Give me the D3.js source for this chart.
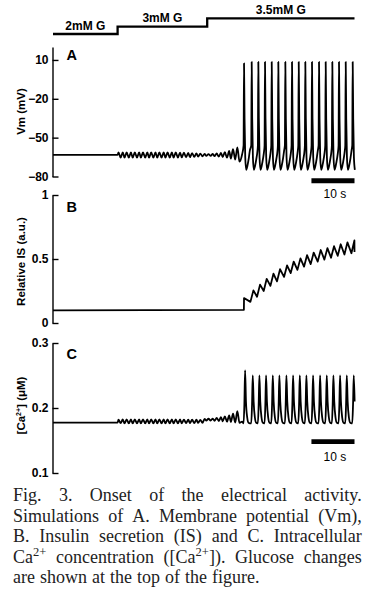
<!DOCTYPE html>
<html>
<head>
<meta charset="utf-8">
<script src="https://cdn.jsdelivr.net/npm/d3@7"></script>
<style>
    body { margin: 0; background: #fff; }
    svg { display: block; }
</style>
</head>
<body>
<svg id="figure" width="374" height="599"></svg>
<script>
// ---------------------------------------------------------------
// values, time in s

// glucose protocol
const glucoseTimes = [0, 15, 35.8, 70]
const glucoseLevels = [2, 3, 3.5, 3.5]
const glucoseLabels = ['2mM G', '3mM G', '3.5mM G']

// 2mM G, flat
const vmRest = -63.3
const caRest = 0.1775
const isRest = [0.099, 0.103]

// subthreshold oscillations (turning points), 3mM G up to first spike
const preTimes = [15.2, 15.7, 16.2, 16.6, 17.1, 17.6, 18.1, 18.5, 19.0, 19.5,
    20.0, 20.4, 20.9, 21.4, 21.9, 22.3, 22.8, 23.3, 23.8, 24.2,
    24.7, 25.2, 25.7, 26.1, 26.6, 27.1, 27.6, 28.0, 28.5, 29.0,
    29.5, 29.9, 30.4, 30.9, 31.4, 31.8, 32.3, 32.8, 33.3, 33.7,
    34.2, 34.7, 35.2, 35.6, 36.1, 36.6, 37.1, 37.5, 38.0, 38.5,
    39.0, 39.4, 39.9, 40.4, 40.9, 41.3, 41.8, 42.3, 42.8, 43.3, 43.9]
const vmPre = [-61.4, -65.4, -61.3, -65.5, -61.3, -65.4, -61.4, -65.5, -61.3, -65.4,
    -61.3, -65.5, -61.4, -65.4, -61.3, -65.5, -61.3, -65.4, -61.4, -65.5,
    -61.3, -65.4, -61.3, -65.5, -61.4, -65.4, -61.3, -65.4, -61.4, -65.4,
    -61.5, -65.3, -61.6, -65.2, -61.7, -65.1, -61.9, -64.9, -62.1, -64.7,
    -62.3, -64.4, -62.6, -64.1, -62.7, -64.1, -62.5, -64.3, -62.2, -64.6,
    -61.8, -65.0, -61.2, -65.5, -60.3, -66.1, -58.8, -66.9, -57.6, -68.5, -63.0]
const caPre = [0.1822, 0.1766, 0.1824, 0.1764, 0.1824, 0.1764, 0.1824, 0.1764, 0.1824, 0.1764,
    0.1824, 0.1764, 0.1824, 0.1764, 0.1824, 0.1764, 0.1824, 0.1764, 0.1824, 0.1764,
    0.1824, 0.1764, 0.1824, 0.1764, 0.1824, 0.1764, 0.1824, 0.1764, 0.1824, 0.1764,
    0.1823, 0.1765, 0.1822, 0.1766, 0.1821, 0.1767, 0.1820, 0.1768, 0.1819, 0.1770,
    0.1818, 0.1772, 0.1832, 0.1806, 0.1835, 0.1806, 0.1838, 0.1804, 0.1847, 0.1800,
    0.1858, 0.1796, 0.1872, 0.1790, 0.1888, 0.1784, 0.1912, 0.1777, 0.1952, 0.1770, 0.1790]

// action potentials at 3.5mM G
const spikeTimes = [44.35, 46.13, 47.67, 49.22, 50.78, 52.31, 53.94, 55.49, 57.05,
    58.58, 60.13, 61.76, 63.31, 64.85, 66.40, 67.96, 69.58]
const vmPeaks = [7.4, 8.4, 8.4, 8.4, 8.4, 8.4, 8.4, 8.4, 8.4,
    8.4, 8.4, 8.4, 8.4, 8.4, 8.4, 8.4, 8.4]
const caPeaks = [0.258, 0.250, 0.250, 0.250, 0.250, 0.250, 0.250, 0.250, 0.250,
    0.250, 0.250, 0.250, 0.250, 0.250, 0.250, 0.250, 0.250]
const isPeaks = [0.195, 0.255, 0.300, 0.345, 0.385, 0.420, 0.450, 0.480, 0.505,
    0.530, 0.550, 0.570, 0.585, 0.600, 0.615, 0.630, 0.645]
const isTroughs = [0.165, 0.205, 0.250, 0.290, 0.325, 0.360, 0.390, 0.415, 0.440,
    0.460, 0.480, 0.495, 0.510, 0.525, 0.535, 0.545, 0.555]

// one cycle around a spike: offset from the spike (s) and value
const vmCycleDt = [-0.1, 0, 0.12, 0.28, 0.5, 0.8, 1.1, 1.35]
const vmCycle = [-56, 8.4, -35, -65, -74.8, -71.5, -66, -60]
const caCycleDt = [-0.1, 0.08, 0.25, 0.45, 0.75, 1.05, 1.35]
const caCycle = [0.1765, 0.205, 0.25, 0.21, 0.185, 0.1772, 0.1765]

const vmTicks = [10, -20, -50, -80]
const isTicks = [1, 0.5, 0]
const caTicks = [0.3, 0.2, 0.1]
const scaleBar = [60, 70]

const captionLines = [
    'Fig. 3. Onset of the electrical activity.',
    'Simulations of A. Membrane potential (Vm),',
    'B. Insulin secretion (IS) and C. Intracellular',
    'Ca{2+} concentration ([Ca{2+}]). Glucose changes',
    'are shown at the top of the figure.'
]

const SANS = '"Liberation Sans", Arial, Helvetica, sans-serif'
const SERIF = '"Liberation Serif", "Times New Roman", serif'

class OnsetFigure {
    constructor(svg) {
        this.svg = svg
        this.x = d3.scaleLinear().domain([0, 70]).range([53, 354.5])
    }

    draw() {
        this.drawGlucose()

        const vm = this.panel({
            letter: 'A', label: ['Vm (mV)'],
            y: d3.scaleLinear().domain([-80, 20]).range([176.5, 47]),
            ticks: vmTicks, format: d3.format('d'),
            letterY: 60, labelY: 111.5
        })
        this.trace(vm, this.vmSeries(), d3.curveMonotoneX)
        this.drawScaleBar(180.8, 5, 198)

        const is = this.panel({
            letter: 'B', label: ['Relative IS (a.u.)'],
            y: d3.scaleLinear().domain([0, 1]).range([323, 195]),
            ticks: isTicks, format: d => String(d),
            letterY: 211.5, labelY: 261.5
        })
        this.trace(is, this.isSeries(), d3.curveLinear)

        const ca = this.panel({
            letter: 'C', label: ['[Ca', '2+', '] (\u03bcM)'],
            y: d3.scaleLinear().domain([0.1, 0.3]).range([473, 343]),
            ticks: caTicks, format: d3.format('.1f'),
            letterY: 359, labelY: 405.5
        })
        this.trace(ca, this.caSeries(), d3.curveMonotoneX)
        this.drawScaleBar(441.7, 4.7, 460.5)

        this.drawCaption()
    }

    //----------------------------------------------------------
    // series
    vmSeries() {
        const pts = [[0, vmRest], [15, vmRest]]
        preTimes.forEach((t, i) => pts.push([t, vmPre[i]]))
        spikeTimes.forEach((tp, i) => {
            vmCycleDt.forEach((dt, j) => pts.push([tp + dt, j === 1 ? vmPeaks[i] : vmCycle[j]]))
        })
        return pts.filter(d => d[0] <= 70.1)
    }

    caSeries() {
        const pts = [[0, caRest], [15, caRest]]
        preTimes.forEach((t, i) => pts.push([t, caPre[i]]))
        spikeTimes.forEach((tp, i) => {
            caCycleDt.forEach((dt, j) => pts.push([tp + dt, j === 2 ? caPeaks[i] : caCycle[j]]))
        })
        return pts.filter(d => d[0] <= 70.1)
    }

    isSeries() {
        const pts = [[0, isRest[0]], [spikeTimes[0] - 0.03, isRest[1]]]
        spikeTimes.forEach((tp, i) => {
            if (i > 0) pts.push([tp - 0.3, isTroughs[i - 1]])
            pts.push([tp + (i ? 0.4 : 0), isPeaks[i]])
        })
        pts.push([70, isTroughs[isTroughs.length - 1]])
        return pts
    }

    //----------------------------------------------------------
    // glucose steps on top
    drawGlucose() {
        const yG = d3.scaleLinear().domain([2, 3, 3.5]).range([34, 26.7, 18.3])
        const data = glucoseTimes.map((t, i) => [t, glucoseLevels[i]])

        this.svg.append('path')
            .datum(data)
            .attr('d', d3.line().x(d => this.x(d[0])).y(d => yG(d[1])).curve(d3.curveStepAfter))
            .style('fill', 'none')
            .style('stroke', '#000')
            .style('stroke-width', 2.3)

        this.svg.selectAll('text.glucose')
            .data(glucoseLabels)
            .enter()
                .append('text')
                .attr('class', 'glucose')
                .attr('x', (d, i) => this.x((glucoseTimes[i] + glucoseTimes[i + 1]) / 2))
                .attr('y', (d, i) => yG(glucoseLevels[i]) - 4.3)
                .style('text-anchor', 'middle')
                .style('font-family', SANS)
                .style('font-weight', 'bold')
                .style('font-size', '12px')
                .text(d => d)
    }

    //----------------------------------------------------------
    // one panel: axis, letter, rotated label
    panel(opt) {
        const g = this.svg.append('g')
        const axis = d3.axisLeft(opt.y)
            .tickValues(opt.ticks)
            .tickFormat(opt.format)
            .tickSizeInner(-6)
            .tickSizeOuter(0)
            .tickPadding(4)

        const ax = g.append('g')
            .attr('transform', `translate(${this.x(0) - 0.5}, 0)`)
            .call(axis)
        ax.selectAll('path, line')
            .style('stroke', '#000')
            .style('stroke-width', 1.4)
        ax.selectAll('text')
            .style('font-family', SANS)
            .style('font-weight', 'bold')
            .style('font-size', '12px')
            .style('fill', '#000')

        g.append('text')
            .attr('x', 66.5)
            .attr('y', opt.letterY)
            .style('font-family', SANS)
            .style('font-weight', 'bold')
            .style('font-size', '14.5px')
            .text(opt.letter)

        const label = g.append('text')
            .attr('transform', `translate(25.3, ${opt.labelY}) rotate(-90)`)
            .style('text-anchor', 'middle')
            .style('font-family', SANS)
            .style('font-weight', 'bold')
            .style('font-size', '11.5px')
        opt.label.forEach((part, i) => {
            const ts = label.append('tspan').text(part)
            if (i === 1) ts.attr('dy', -4.5).style('font-size', '7px')
            if (i === 2) ts.attr('dy', 4.5)
        })

        return { g: g, y: opt.y }
    }

    trace(p, data, curve) {
        p.g.append('path')
            .datum(data)
            .attr('d', d3.line().x(d => this.x(d[0])).y(d => p.y(d[1])).curve(curve))
            .style('fill', 'none')
            .style('stroke', '#000')
            .style('stroke-width', 1.8)
            .style('stroke-linejoin', 'round')
    }

    drawScaleBar(y, width, textY) {
        this.svg.append('line')
            .attr('x1', this.x(scaleBar[0]))
            .attr('x2', this.x(scaleBar[1]))
            .attr('y1', y)
            .attr('y2', y)
            .style('stroke', '#000')
            .style('stroke-width', width)
        this.svg.append('text')
            .attr('x', this.x((scaleBar[0] + scaleBar[1]) / 2) + 2)
            .attr('y', textY)
            .style('text-anchor', 'middle')
            .style('font-family', SANS)
            .style('font-size', '12px')
            .text(`${scaleBar[1] - scaleBar[0]} s`)
    }

    //----------------------------------------------------------
    // justified caption below the figure
    drawCaption() {
        const left = 13
        const rights = [361.7, 361.7, 361.7, 361.7, 259.5]
        const g = this.svg.append('g')
            .style('font-family', SERIF)
            .style('font-size', '18px')
            .style('fill', '#222')

        captionLines.forEach((line, li) => {
            const y = 501 + li * 20.5
            const words = line.split(' ').map(w => {
                const t = g.append('text').attr('y', y)
                let shifted = false
                w.split(/[{}]/).forEach((part, k) => {
                    if (!part) return
                    const ts = t.append('tspan').text(part)
                    if (k % 2) {
                        ts.attr('dy', -7).style('font-size', '12.5px')
                        shifted = true
                    } else if (shifted) {
                        ts.attr('dy', 7)
                        shifted = false
                    }
                })
                return t
            })
            const widths = words.map(t => t.node().getComputedTextLength())
            const gap = (rights[li] - left - d3.sum(widths)) / (words.length - 1)
            let cx = left
            words.forEach((t, i) => {
                t.attr('x', cx)
                cx += widths[i] + gap
            })
        })
    }
}

new OnsetFigure(d3.select('#figure')).draw()
</script>
</body>
</html>
